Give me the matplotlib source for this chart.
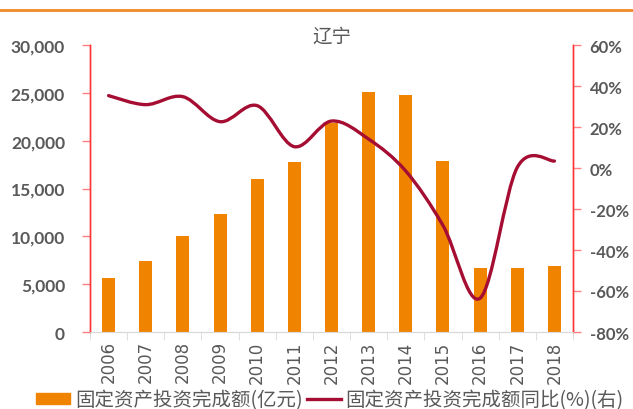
import numpy as np
import matplotlib
matplotlib.use("Agg")
import matplotlib.pyplot as plt
from matplotlib.path import Path
from matplotlib.patches import PathPatch, Patch
from matplotlib.lines import Line2D
from matplotlib.ticker import FuncFormatter, MultipleLocator

years = ["2006", "2007", "2008", "2009", "2010", "2011", "2012",
         "2013", "2014", "2015", "2016", "2017", "2018"]
invest = [5690, 7435, 10019, 12292, 16043, 17726, 21836,
          25108, 24731, 17918, 6692, 6676, 6900]
growth = [35.3, 30.9, 34.8, 22.6, 30.4, 10.4, 22.9,
          14.1, -1.5, -28.0, -63.5, 0.3, 3.4]

title = "辽宁"
bar_label = "固定资产投资完成额(亿元)"
line_label = "固定资产投资完成额同比(%)(右)"

BAR_C = "#F08300"
LINE_C = "#A50E32"
GRAY = "#595959"
RED_AX = "#FF3333"
CJK = ["Noto Sans CJK SC", "DejaVu Sans"]

fig = plt.figure(figsize=(6.33, 4.10), dpi=100)
ax = fig.add_axes([90/633, 1-333/410, (573-90)/633, (333-46)/410])
ax2 = ax.twinx()

x = np.arange(len(years))
ax.bar(x, invest, width=0.35, color=BAR_C, zorder=2)
ax.set_xlim(-0.5, len(years)-0.5)
ax.set_ylim(0, 30000)
ax.yaxis.set_major_locator(MultipleLocator(5000))
ax.yaxis.set_major_formatter(FuncFormatter(lambda v, p: f"{int(v):,}"))

# smooth line (Excel-like bezier)
pts = np.column_stack([x, growth]).astype(float)
n = len(pts)
verts = [tuple(pts[0])]
codes = [Path.MOVETO]
for i in range(n-1):
    p0 = pts[i-1] if i > 0 else pts[i]
    p1 = pts[i]
    p2 = pts[i+1]
    p3 = pts[i+2] if i+2 < n else pts[i+1]
    c1 = p1 + (p2 - p0)/6
    c2 = p2 - (p3 - p1)/6
    verts += [tuple(c1), tuple(c2), tuple(p2)]
    codes += [Path.CURVE4]*3
ax2.add_patch(PathPatch(Path(verts, codes), facecolor="none", edgecolor=LINE_C,
                        lw=2.4, capstyle="round", joinstyle="round", zorder=3))
ax2.set_ylim(-80, 60)
ax2.yaxis.set_major_locator(MultipleLocator(20))
ax2.yaxis.set_major_formatter(FuncFormatter(lambda v, p: f"{int(round(v))}%"))

for a in (ax, ax2):
    a.spines["top"].set_visible(False)
    a.spines["left"].set_color(RED_AX)
    a.spines["right"].set_color(RED_AX)
    a.spines["bottom"].set_color("#D9D9D9")
    a.spines["left"].set_linewidth(1.0)
    a.spines["right"].set_linewidth(1.0)

ax.tick_params(axis="y", direction="out", length=6, width=1, color="#FF8080",
               pad=12, labelsize=12.5, labelcolor=GRAY)
for lab in ax.get_yticklabels():
    lab.set_fontfamily("Lato"); lab.set_fontweight("bold")
ax2.tick_params(axis="y", direction="out", length=6, width=1, color="#FF8080",
                pad=6, labelsize=12, labelcolor=GRAY)
for lab in ax2.get_yticklabels():
    lab.set_fontfamily("Lato"); lab.set_fontweight("bold")

ax.set_xticks(x)
ax.set_xticklabels(years, rotation=90, fontsize=12, color=GRAY)
ax.tick_params(axis="x", length=0, pad=6)
ax.set_xticks(np.arange(-0.5, len(years), 1.0), minor=True)
ax.tick_params(axis="x", which="minor", length=6, color="#D9D9D9", direction="out")

fig.text(332/633, 1-37/410, title, ha="center", va="center", fontsize=14,
         color=GRAY, family=CJK)

fig.add_artist(Line2D([0, 1], [1-11/410, 1-11/410], transform=fig.transFigure,
                      color="#F08A24", lw=2))

handles = [Patch(color=BAR_C), Line2D([], [], color=LINE_C, lw=2.4)]
leg = fig.legend(handles, [bar_label, line_label], loc="center",
                 bbox_to_anchor=(330/633, 1-401/410), ncol=2, frameon=False,
                 prop={"family": CJK, "size": 14},
                 handlelength=1.75, handleheight=0.55, handletextpad=0.25,
                 columnspacing=0.2, borderaxespad=0, borderpad=0)
for t in leg.get_texts():
    t.set_color(GRAY)

fig.savefig("out.png", dpi=100)
